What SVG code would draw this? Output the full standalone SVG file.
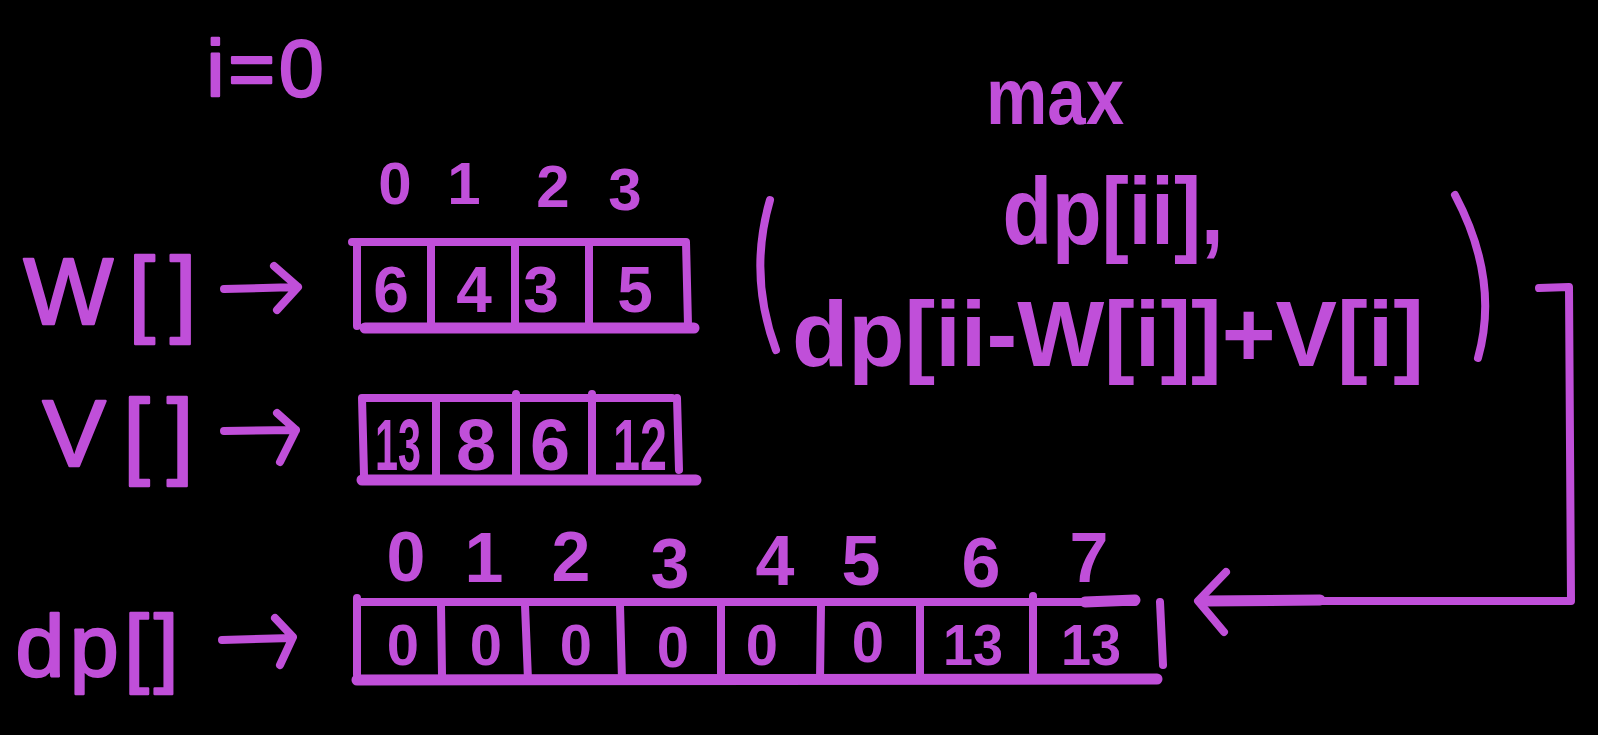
<svg xmlns="http://www.w3.org/2000/svg" width="1598" height="735" viewBox="0 0 1598 735">
<style>
.bg{fill:#000}
.t{fill:#c04fd9;font-family:"Liberation Sans","DejaVu Sans",sans-serif;text-anchor:middle}
.b{font-weight:bold}
.lbl{font-weight:normal;stroke:#c04fd9;stroke-width:2.5;stroke-linejoin:round}
.ln{fill:none;stroke:#c04fd9;stroke-width:8;stroke-linecap:round;stroke-linejoin:round}
.thick{stroke-width:11}
</style>
<rect class="bg" width="1598" height="735"/>

<g id="i-label"><text class="t lbl" x="265" y="96" font-size="80" textLength="117" lengthAdjust="spacing">i=0</text></g>

<g id="max-label"><text class="t b" x="1055" y="124" font-size="80" textLength="138" lengthAdjust="spacingAndGlyphs">max</text></g>

<g id="formula">
<path class="ln" d="M770 200 Q748 275 776 350"/>
<text class="t b" x="1113" y="244" font-size="95" textLength="221" lengthAdjust="spacingAndGlyphs">dp[ii],</text>
<text class="t b" x="1108" y="366" font-size="92" textLength="632" lengthAdjust="spacingAndGlyphs">dp[ii-W[i]]+V[i]</text>
<path class="ln" d="M1455 195 Q1500 280 1478 358"/>
</g>

<g id="W-label"><text class="t lbl" x="110" y="324" font-size="95" textLength="173" lengthAdjust="spacing">W[]</text></g>
<g id="V-label"><text class="t lbl" x="118" y="466" font-size="95" textLength="151" lengthAdjust="spacing">V[]</text></g>
<g id="dp-label"><text class="t lbl" x="97" y="676" font-size="88" textLength="163" lengthAdjust="spacing">dp[]</text></g>

<g id="W-array">
<g class="t b" font-size="60">
<text x="395" y="204">0</text><text x="464" y="204">1</text><text x="553" y="207">2</text><text x="625" y="210">3</text>
</g>
<path class="ln" d="M352 242 L686 242 M357 242 L357 326 M686 242 L688 325 M431 245 L431 328 M515 245 L515 328 M589 245 L589 328"/>
<path class="ln thick" d="M365 328 L694 328"/>
<g class="t b" font-size="64">
<text x="391" y="312">6</text><text x="474" y="312">4</text><text x="541" y="312">3</text><text x="635" y="312">5</text>
</g>
</g>

<g id="V-array">
<path class="ln" d="M362 398 L672 398 M362 398 L364 475 M677 398 L679 470 M436 398 L436 480 M516 394 L516 480 M592 394 L592 478"/>
<path class="ln thick" d="M362 480 L696 480"/>
<g class="t b" font-size="72">
<text x="398" y="470" textLength="46" lengthAdjust="spacingAndGlyphs">13</text>
<text x="476" y="470">8</text><text x="550" y="470">6</text>
<text x="640" y="470" textLength="54" lengthAdjust="spacingAndGlyphs">12</text>
</g>
</g>

<g id="dp-array">
<g class="t b" font-size="70">
<text x="406" y="581">0</text><text x="484" y="582">1</text><text x="571" y="581">2</text><text x="670" y="588">3</text>
<text x="775" y="585">4</text><text x="861" y="585">5</text><text x="981" y="587">6</text><text x="1089" y="582">7</text>
</g>
<path class="ln" d="M357 602 L1135 602 M357 598 L357 675 M1160 602 L1163 665 M441 605 L442 675 M525 605 L528 680 M620 605 L622 680 M721 605 L721 680 M821 605 L820 680 M920 602 L920 675 M1033 596 L1033 672"/>
<path class="ln thick" d="M1085 602 L1135 600 M357 680 L1157 679"/>
<g class="t b" font-size="58">
<text x="403" y="665">0</text><text x="486" y="665">0</text><text x="576" y="665">0</text><text x="673" y="667">0</text>
<text x="762" y="665">0</text><text x="868" y="662">0</text>
<text x="973" y="665" textLength="60" lengthAdjust="spacingAndGlyphs">13</text>
<text x="1091" y="665" textLength="60" lengthAdjust="spacingAndGlyphs">13</text>
</g>
</g>

<g id="connectors">
<path class="ln" d="M224 289 L298 287 M274 266 L298 287 L277 310"/>
<path class="ln" d="M224 431 L296 430 M277 413 L296 430 L280 462"/>
<path class="ln" d="M222 640 L292 638 M275 618 L293 637 L280 665"/>
<path class="ln" d="M1539 288 L1569 287 L1571 601 L1200 601 M1226 572 L1198 601 L1224 632"/>
<path class="ln thick" d="M1205 601 L1320 600"/>
</g>
</svg>
